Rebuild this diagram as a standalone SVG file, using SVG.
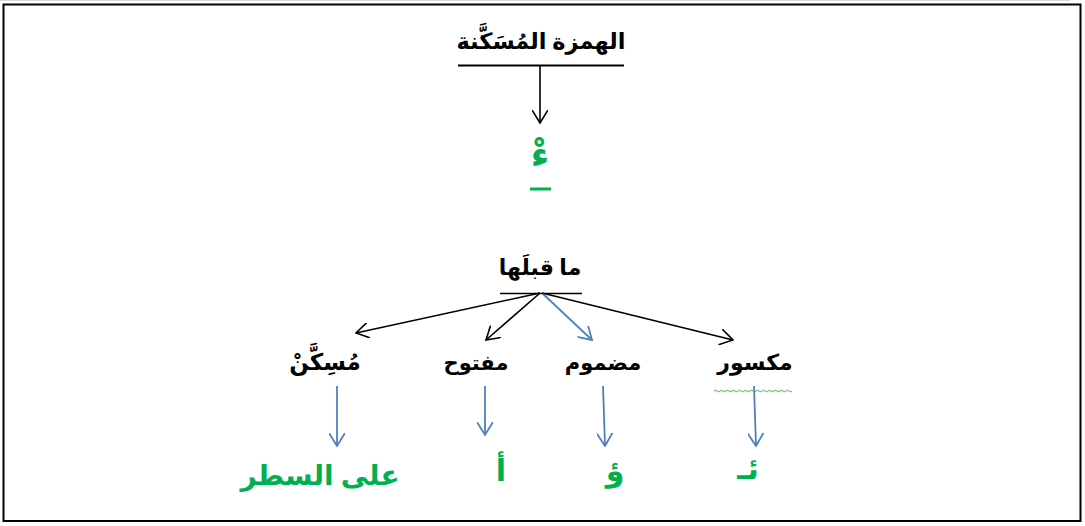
<svg xmlns="http://www.w3.org/2000/svg" width="1085" height="526" viewBox="0 0 1085 526">
<style>
.t{font-family:"Liberation Serif","DejaVu Sans",serif;font-weight:bold;fill:#000;text-anchor:middle;direction:rtl}
.g{font-family:"Liberation Serif","DejaVu Sans",serif;font-weight:bold;fill:#00B050;text-anchor:middle;direction:rtl}
.k{stroke:#000;stroke-width:1.6;fill:none}
.b{stroke:#4F81BD;stroke-width:1.8;fill:none}
</style>
<defs>
<marker id="ak" viewBox="0 0 14 16" refX="13" refY="8" markerWidth="14" markerHeight="16" markerUnits="userSpaceOnUse" orient="auto"><path d="M0,0 L13,8 L0,16" fill="none" stroke="#000" stroke-width="1.6"/></marker>
<marker id="ab" viewBox="0 0 14 16" refX="13" refY="8" markerWidth="14" markerHeight="16" markerUnits="userSpaceOnUse" orient="auto"><path d="M0,0 L13,8 L0,16" fill="none" stroke="#4F81BD" stroke-width="1.8"/></marker>
</defs>
<rect x="0" y="0" width="1085" height="526" fill="#fff"/>
<line x1="0" y1="0.5" x2="1070" y2="0.5" stroke="#d8d8d8" stroke-width="1"/>
<rect x="3.5" y="4.5" width="1077" height="516.5" fill="none" stroke="#000" stroke-width="2"/>
<g id="title"><text class="t" x="541" y="49" font-size="22.5">الهمزة المُسَكَّنة</text><line x1="458" y1="65.5" x2="624" y2="65.5" stroke="#000" stroke-width="2"/></g>
<g id="hamza"><text class="g" x="540" y="167" font-size="36">ءْ</text><line x1="530" y1="189" x2="551" y2="189" stroke="#00B050" stroke-width="3"/></g>
<g id="before"><text class="t" x="540" y="275" font-size="22">ما قبلَها</text><line x1="500" y1="293.5" x2="582" y2="293.5" stroke="#000" stroke-width="1.6"/></g>
<g id="n1"><text class="t" x="325" y="370" font-size="23">مُسِكَّنْ</text></g>
<g id="n2"><text class="t" x="476" y="370" font-size="21">مفتوح</text></g>
<g id="n3"><text class="t" x="603" y="370" font-size="21">مضموم</text></g>
<g id="n4"><text class="t" x="755" y="370" font-size="22">مكسور</text><path d="M714,391 q1.5,-1.5 3,0 t3,0 t3,0 t3,0 t3,0 t3,0 t3,0 t3,0 t3,0 t3,0 t3,0 t3,0 t3,0 t3,0 t3,0 t3,0 t3,0 t3,0 t3,0 t3,0 t3,0 t3,0 t3,0 t3,0 t3,0 t3,0" fill="none" stroke="#4CAF50" stroke-width="1"/></g>
<g id="r1"><text class="g" x="320" y="485" font-size="28">على السطر</text></g>
<g id="r2"><text class="g" x="501" y="481" font-size="30">أ</text></g>
<g id="r3"><text class="g" x="615" y="481" font-size="30">ؤ</text></g>
<g id="r4"><text class="g" x="748" y="479" font-size="30">ئـ</text></g>
<g id="connectors">
<line class="k" x1="540" y1="66" x2="540" y2="123" marker-end="url(#ak)"/>
<line class="k" x1="540" y1="293" x2="356" y2="333" marker-end="url(#ak)"/>
<line class="k" x1="540" y1="293" x2="486" y2="340" marker-end="url(#ak)"/>
<line class="b" x1="542" y1="293" x2="592" y2="340" marker-end="url(#ab)"/>
<line class="k" x1="542" y1="293" x2="733" y2="340" marker-end="url(#ak)"/>
<line class="b" x1="337" y1="386" x2="337" y2="446" marker-end="url(#ab)"/>
<line class="b" x1="485" y1="386" x2="485" y2="435" marker-end="url(#ab)"/>
<line class="b" x1="603" y1="386" x2="605" y2="446" marker-end="url(#ab)"/>
<line class="b" x1="754" y1="386" x2="756" y2="446" marker-end="url(#ab)"/>
</g>
</svg>
